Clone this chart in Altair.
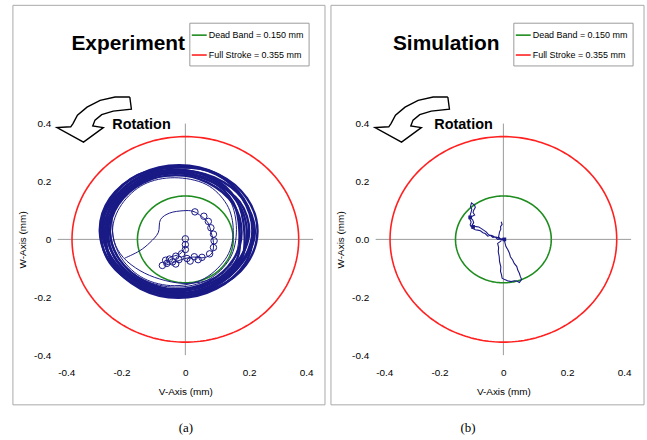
import altair as alt
import numpy as np
import pandas as pd

# ---------------- data ----------------
AXIS_TICKS = [-0.4, -0.2, 0, 0.2, 0.4]
DEAD_BAND = 0.150
FULL_STROKE = 0.355
LEGEND_LABELS = ["Dead Band = 0.150 mm", "Full Stroke = 0.355 mm"]
LEGEND_COLORS = ["#1e8c1e", "#ff2020"]
PANEL_TITLES = ["Experiment", "Simulation"]
CAPTIONS = ["(a)", "(b)"]

# Experiment: dense orbit band (several overlapping loops)
EXP_BAND_LOOPS = [
    [(0.226, 0.027), (0.193, 0.142), (0.103, 0.225), (-0.02, 0.256), (-0.143, 0.225), (-0.236, 0.142),
     (-0.268, 0.027), (-0.230, -0.088), (-0.140, -0.165), (-0.02, -0.195), (0.100, -0.165), (0.190, -0.088)],
    [(0.212, 0.026), (0.183, 0.140), (0.097, 0.224), (-0.022, 0.252), (-0.141, 0.217), (-0.222, 0.137),
     (-0.252, 0.026), (-0.227, -0.085), (-0.141, -0.170), (-0.022, -0.202), (0.097, -0.170), (0.186, -0.085)],
    [(0.218, 0.026), (0.180, 0.140), (0.090, 0.214), (-0.024, 0.239), (-0.140, 0.218), (-0.230, 0.133),
     (-0.260, 0.026), (-0.221, -0.081), (-0.138, -0.158), (-0.024, -0.198), (0.095, -0.160), (0.178, -0.081)],
    [(0.193, 0.025), (0.164, 0.128), (0.084, 0.208), (-0.026, 0.242), (-0.136, 0.210), (-0.222, 0.128),
     (-0.258, 0.025), (-0.222, -0.078), (-0.136, -0.153), (-0.026, -0.185), (0.084, -0.158), (0.168, -0.078)],
    [(0.200, 0.025), (0.170, 0.130), (0.080, 0.200), (-0.028, 0.228), (-0.133, 0.202), (-0.214, 0.124),
     (-0.242, 0.025), (-0.215, -0.074), (-0.133, -0.150), (-0.028, -0.180), (0.085, -0.150), (0.165, -0.074)],
    [(0.176, 0.025), (0.150, 0.122), (0.070, 0.196), (-0.030, 0.222), (-0.132, 0.196), (-0.210, 0.120),
     (-0.236, 0.025), (-0.206, -0.070), (-0.130, -0.143), (-0.030, -0.172), (0.075, -0.145), (0.150, -0.070)],
    [(0.210, 0.030), (0.176, 0.146), (0.092, 0.230), (-0.030, 0.248), (-0.150, 0.222), (-0.232, 0.140),
     (-0.264, 0.030), (-0.236, -0.082), (-0.145, -0.160), (-0.025, -0.188), (0.090, -0.162), (0.175, -0.080)],
    [(0.170, 0.022), (0.150, 0.128), (0.075, 0.205), (-0.028, 0.232), (-0.138, 0.206), (-0.218, 0.125),
     (-0.246, 0.022), (-0.212, -0.076), (-0.132, -0.148), (-0.028, -0.176), (0.080, -0.150), (0.158, -0.076)],
    [(0.185, 0.025), (0.160, 0.136), (0.082, 0.214), (-0.024, 0.236), (-0.142, 0.214), (-0.226, 0.130),
     (-0.250, 0.025), (-0.226, -0.080), (-0.136, -0.160), (-0.026, -0.190), (0.090, -0.156), (0.172, -0.080)],
]
EXP_SPARSE_LOOPS = [
    [(0.15, 0.03), (0.13, 0.12), (0.065, 0.19), (-0.035, 0.213), (-0.13, 0.19), (-0.2, 0.12),
     (-0.228, 0.03), (-0.2, -0.065), (-0.13, -0.135), (-0.035, -0.16), (0.06, -0.135), (0.13, -0.06)],
    [(0.16, 0.035), (0.14, 0.135), (0.08, 0.205), (-0.03, 0.22), (-0.135, 0.2), (-0.212, 0.125),
     (-0.235, 0.03), (-0.205, -0.07), (-0.13, -0.14), (-0.03, -0.165), (0.07, -0.14), (0.14, -0.065)],
]

# Experiment: thin transition path and inner spiral
EXP_RING_PATH = [(-0.21, 0.17), (-0.225, 0.143), (-0.23, 0.074), (-0.223, -0.006), (-0.194, -0.063),
                 (-0.142, -0.108), (-0.08, -0.137), (-0.007, -0.152), (0.065, -0.143), (0.128, -0.108),
                 (0.159, -0.051), (0.169, 0.029), (0.159, 0.108), (0.117, 0.166), (0.06, 0.2)]
EXP_SPIRAL_PATH = [(-0.19, -0.065), (-0.144, -0.04), (-0.111, -0.011), (-0.085, 0.023), (-0.078, 0.068),
                   (-0.049, 0.091), (-0.007, 0.099), (0.024, 0.097), (0.05, 0.08), (0.071, 0.057),
                   (0.081, 0.023), (0.088, -0.011), (0.084, -0.046), (0.06, -0.063), (0.024, -0.061),
                   (-0.007, -0.068), (-0.038, -0.08), (-0.064, -0.088), (-0.049, -0.063), (-0.018, -0.051),
                   (-0.002, -0.029), (0.0, -0.006)]
EXP_SMALL_LOOPS = [(0.03, 0.095), (0.058, 0.08), (0.072, 0.062), (0.08, 0.04), (0.088, 0.018), (0.09, -0.005),
                   (0.088, -0.028), (0.076, -0.05), (0.052, -0.062), (0.028, -0.06), (0.005, -0.066),
                   (-0.02, -0.07), (-0.04, -0.078), (-0.058, -0.083), (-0.072, -0.09), (-0.05, -0.068),
                   (-0.03, -0.058), (-0.012, -0.05), (0.0, -0.035), (0.0, -0.018), (0.0, 0.002),
                   (-0.03, -0.085), (0.015, -0.075), (-0.062, -0.072), (0.04, -0.07)]

# Simulation trajectory
SIM_PATH = [(-0.007, 0.061), (-0.004, 0.052), (-0.009, 0.044), (-0.008, 0.035), (-0.012, 0.026),
            (-0.015, 0.009), (-0.007, -0.002), (0.003, 0.003), (-0.018, 0.0), (-0.025, 0.008),
            (-0.033, 0.007), (-0.041, 0.014), (-0.049, 0.011), (-0.057, 0.02), (-0.064, 0.023),
            (-0.072, 0.03), (-0.08, 0.032), (-0.088, 0.033), (-0.096, 0.038), (-0.098, 0.049),
            (-0.093, 0.058), (-0.096, 0.067), (-0.104, 0.076), (-0.09, 0.084), (-0.095, 0.093),
            (-0.093, 0.101), (-0.088, 0.11), (-0.09, 0.118), (-0.10, 0.126), (-0.103, 0.113),
            (-0.099, 0.104), (-0.101, 0.095), (-0.104, 0.084), (-0.106, 0.072), (-0.101, 0.06),
            (-0.104, 0.05), (-0.101, 0.044), (-0.093, 0.047), (-0.085, 0.044), (-0.077, 0.043),
            (-0.07, 0.038), (-0.062, 0.032), (-0.054, 0.026), (-0.048, 0.018), (-0.044, 0.015),
            (-0.036, 0.013), (-0.028, 0.009), (-0.02, 0.007), (-0.012, 0.003), (0.003, -0.002),
            (0.005, -0.012), (0.008, -0.025), (0.014, -0.036), (0.019, -0.048), (0.022, -0.06),
            (0.029, -0.071), (0.034, -0.083), (0.042, -0.094), (0.045, -0.106), (0.05, -0.117),
            (0.053, -0.128), (0.057, -0.138), (0.05, -0.149), (0.042, -0.144), (0.034, -0.143),
            (0.024, -0.146), (0.013, -0.143), (0.004, -0.139), (-0.004, -0.134), (-0.006, -0.122),
            (-0.009, -0.111), (-0.008, -0.095), (-0.012, -0.077), (-0.013, -0.06), (-0.016, -0.043),
            (-0.015, -0.028), (-0.018, -0.014), (-0.007, -0.005)]
SIM_DOTS = [(-0.104, 0.076), (-0.095, 0.043), (0.003, 0.0)]

# Rotation arrow outline (data units)
ARROW_OUTLINE = [(-0.174, 0.492), (-0.220, 0.492), (-0.267, 0.480), (-0.308, 0.457), (-0.338, 0.429),
                 (-0.352, 0.400), (-0.359, 0.389), (-0.402, 0.386), (-0.319, 0.336), (-0.257, 0.386),
                 (-0.290, 0.392), (-0.283, 0.412), (-0.262, 0.431), (-0.226, 0.443), (-0.169, 0.450),
                 (-0.174, 0.492)]

# ---------------- styles ----------------
NAVY = "#1a1a86"
FONT = "Liberation Sans"
W, H = 257, 233
DOM = [-0.4, 0.4]


def xy_df(points, group=0):
    return pd.DataFrame({"v": [p[0] for p in points], "w": [p[1] for p in points],
                         "i": list(range(len(points))), "g": group})


def loops_df(loops):
    return pd.concat([xy_df(l, g) for g, l in enumerate(loops)], ignore_index=True)


def circle_df(r):
    t = np.linspace(0, 2 * np.pi, 241)
    return pd.DataFrame({"v": r * np.cos(t), "w": r * np.sin(t), "i": np.arange(len(t))})


ONE = pd.DataFrame({"k": [0]})


def exp_layers(X, Y):
    return [
        alt.Chart(loops_df(EXP_BAND_LOOPS)).mark_line(color=NAVY, strokeWidth=2.4,
                                                      interpolate="cardinal-closed").encode(
            x=X, y=Y, detail="g:N", order="i:Q"),
        alt.Chart(loops_df(EXP_SPARSE_LOOPS)).mark_line(color=NAVY, strokeWidth=1,
                                                        interpolate="cardinal-closed").encode(
            x=X, y=Y, detail="g:N", order="i:Q"),
        alt.Chart(xy_df(EXP_RING_PATH)).mark_line(color=NAVY, strokeWidth=1, interpolate="cardinal").encode(
            x=X, y=Y, order="i:Q"),
        alt.Chart(xy_df(EXP_SPIRAL_PATH)).mark_line(color=NAVY, strokeWidth=1, interpolate="cardinal").encode(
            x=X, y=Y, order="i:Q"),
        alt.Chart(xy_df(EXP_SMALL_LOOPS)).mark_point(shape="circle", filled=False, color=NAVY, size=42,
                                                     strokeWidth=1, opacity=1).encode(x=X, y=Y),
    ]


def sim_layers(X, Y):
    return [
        alt.Chart(xy_df(SIM_PATH)).mark_line(color=NAVY, strokeWidth=1.1).encode(x=X, y=Y, order="i:Q"),
        alt.Chart(xy_df(SIM_DOTS)).mark_point(shape="square", filled=True, color=NAVY, size=14,
                                              opacity=1).encode(x=X, y=Y),
    ]


def panel(idx, traj_fn, y_zero_label):
    lab_x = "datum.value == 0 ? '0' : (datum.value < 0 ? '-' : '') + format(abs(datum.value), '.1f')"
    lab_y = lab_x if y_zero_label == "0" else "(datum.value < 0 ? '-' : '') + format(abs(datum.value), '.1f')"
    X = alt.X("v:Q", scale=alt.Scale(domain=DOM, nice=False, zero=False), title="V-Axis (mm)",
              axis=alt.Axis(values=AXIS_TICKS, labelExpr=lab_x, domain=False, ticks=False, grid=False,
                            labelPadding=12, titlePadding=10))
    Y = alt.Y("w:Q", scale=alt.Scale(domain=DOM, nice=False, zero=False), title="W-Axis (mm)",
              axis=alt.Axis(values=AXIS_TICKS, labelExpr=lab_y, domain=False, ticks=False, grid=False,
                            labelPadding=7, titlePadding=6))
    cross = pd.DataFrame({"v": [-0.4, 0.0], "v2": [0.4, 0.0], "w": [0.0, -0.4], "w2": [0.0, 0.4]})
    base = alt.Chart(cross).mark_rule(color="#9a9a9a", strokeWidth=1).encode(
        x=X, x2="v2:Q", y=Y, y2="w2:Q")
    border = alt.Chart(ONE).mark_rect(fillOpacity=0, stroke="#a8a8a8", strokeWidth=1).encode(
        x=alt.value(-45), x2=alt.value(269 if idx == 0 else 270), y=alt.value(-119), y2=alt.value(283))
    circles = [
        alt.Chart(circle_df(r)).mark_line(color=c, strokeWidth=1.6).encode(x=X, y=Y, order="i:Q")
        for r, c in [(DEAD_BAND, LEGEND_COLORS[0]), (FULL_STROKE, LEGEND_COLORS[1])]
    ]
    arrow = alt.Chart(xy_df(ARROW_OUTLINE)).mark_line(color="black", strokeWidth=1.4, clip=False).encode(
        x=X, y=Y, order="i:Q")
    rot = alt.Chart(ONE).mark_text(text="Rotation", font=FONT, fontSize=14.5, fontWeight="bold",
                                   align="left", baseline="alphabetic").encode(
        x=alt.value(55 if idx == 0 else 59), y=alt.value(5))
    title = alt.Chart(ONE).mark_text(text=PANEL_TITLES[idx], font=FONT, fontSize=21, fontWeight="bold",
                                     align="center", baseline="alphabetic").encode(
        x=alt.value(71), y=alt.value(-74))
    lx0 = 133 if idx == 0 else 139
    leg = [alt.Chart(ONE).mark_rect(fill="white", stroke="#9a9a9a", strokeWidth=1).encode(
        x=alt.value(lx0), x2=alt.value(lx0 + 120), y=alt.value(-101), y2=alt.value(-58))]
    for k, (lab, col) in enumerate(zip(LEGEND_LABELS, LEGEND_COLORS)):
        yy = -89 + 20 * k
        leg.append(alt.Chart(ONE).mark_rule(color=col, strokeWidth=1.6).encode(
            x=alt.value(lx0 + 2), x2=alt.value(lx0 + 17), y=alt.value(yy)))
        leg.append(alt.Chart(ONE).mark_text(text=lab, font=FONT, fontSize=9, align="left",
                                            baseline="middle").encode(
            x=alt.value(lx0 + 19), y=alt.value(yy)))
    cap = alt.Chart(ONE).mark_text(text=CAPTIONS[idx], font="Liberation Serif", fontSize=13,
                                   align="center", baseline="middle").encode(
        x=alt.value(129 if idx == 0 else 93), y=alt.value(306))
    return alt.layer(base, border, *circles, *traj_fn(X, Y), arrow, rot, title, *leg, cap).properties(
        width=W, height=H)


chart = alt.hconcat(panel(0, exp_layers, "0"), panel(1, sim_layers, "0.0"), spacing=4).properties(
    padding={"left": 12, "top": 3, "right": 2, "bottom": 4}
).configure_view(stroke=None).configure_axis(
    labelFont=FONT, titleFont=FONT, labelFontSize=10, titleFontSize=10, labelColor="black",
    titleColor="black", titleFontWeight="normal"
)

chart.save("out.html", embed_options={"renderer": "svg", "actions": False})
